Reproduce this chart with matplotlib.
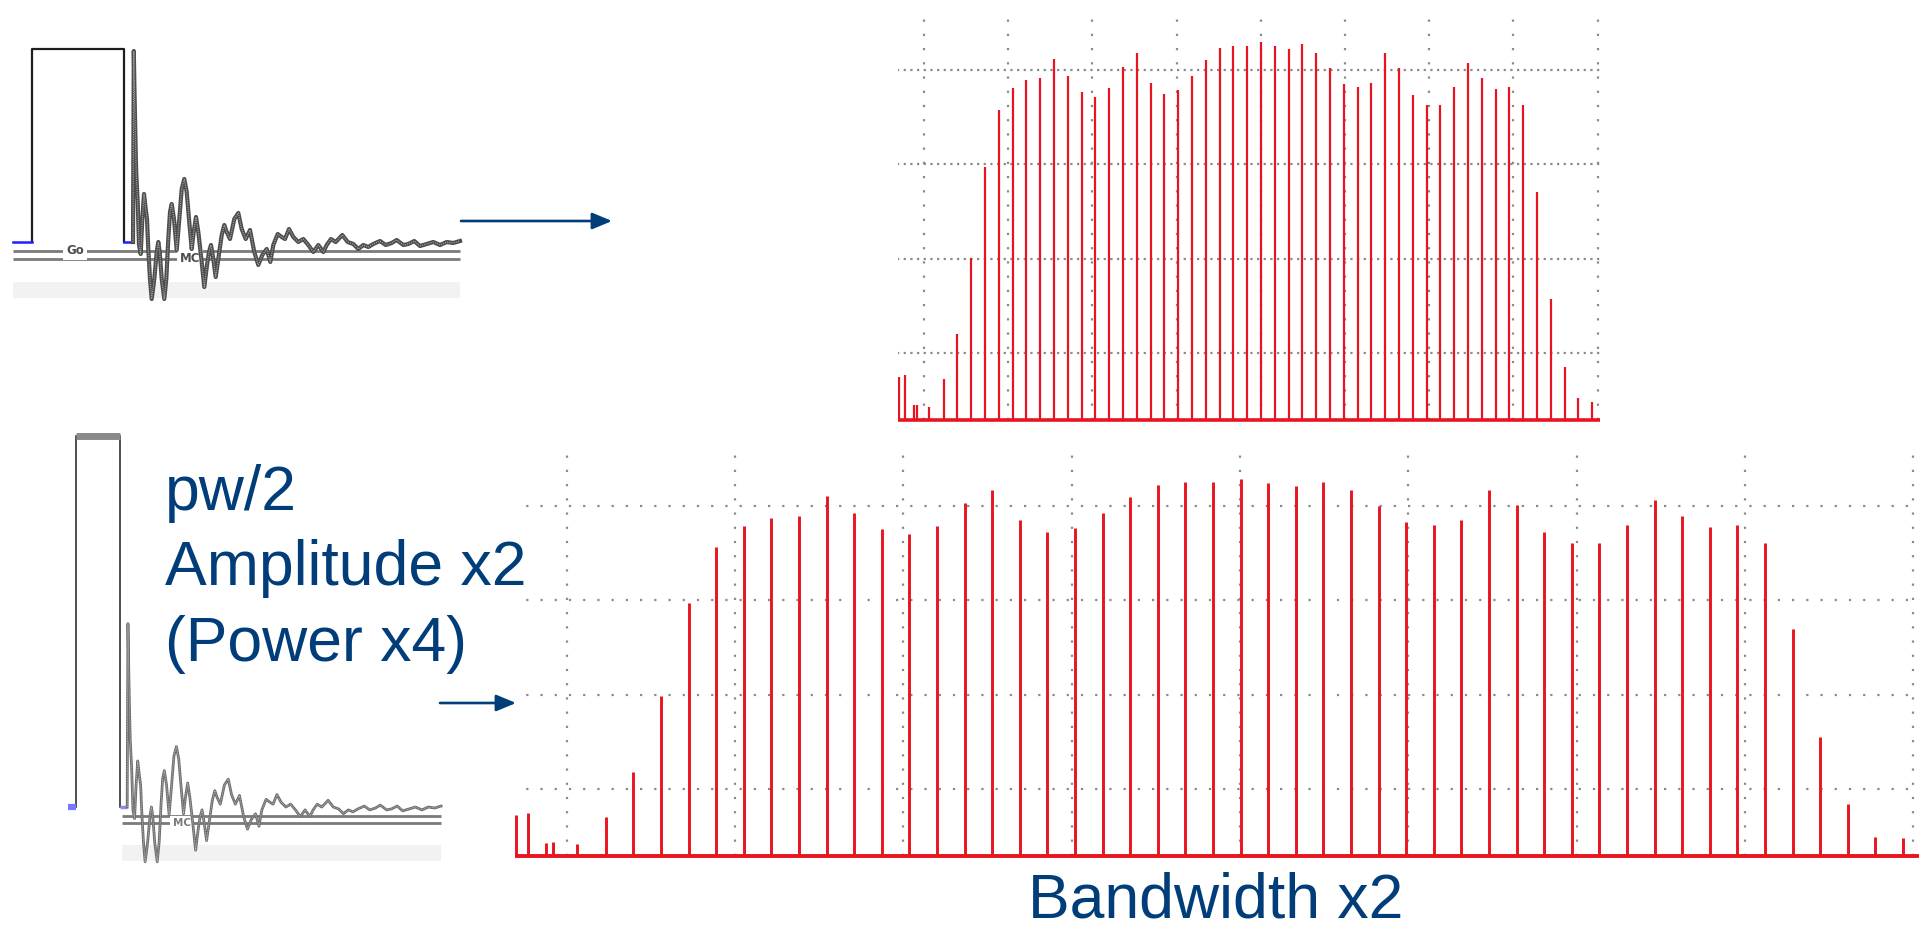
import numpy as np
import matplotlib
matplotlib.use("Agg")
import matplotlib.pyplot as plt

# ---------------- data ----------------
# comb spectrum: relative harmonic index of each excited line
peak_index = np.arange(48)
top_heights = [41, 86, 162, 253, 310, 332, 340, 342, 361, 344,
               328, 323, 332, 353, 367, 337, 326, 330, 344, 360,
               372, 374, 374, 378, 374, 371, 376, 367, 352, 336,
               333, 337, 367, 352, 325, 315, 315, 333, 357, 342,
               331, 333, 315, 228, 121, 53, 22, 18]
bottom_heights = [39, 84, 160, 253, 309, 330, 338, 340, 360, 343,
                  327, 322, 330, 353, 366, 336, 324, 328, 343, 359,
                  371, 374, 374, 377, 373, 370, 374, 366, 350, 334,
                  331, 336, 366, 351, 324, 313, 313, 331, 356, 340,
                  329, 331, 313, 227, 119, 52, 19, 18]
small_index = [-3.25, -2.83, -2.17, -1.90, -1.06]
small_top = [43, 45, 15, 15, 13]
small_bottom = [41, 43, 13, 14, 12]
grid_index = [-1.42, 4.68, 10.78, 16.88, 22.98, 29.08, 35.18, 41.28, 47.38]
grid_level = [67, 161.5, 256, 350.5]
grid_top = 410

# pulse parameters (time units, amplitude units)
pulse_width = 92
pulse_amp = 193
# FID trace (time after FID start, amplitude)
fid_t = [0, 0.8, 1.5, 2.7, 3.2, 4.7, 6, 7.7, 9.3, 11, 12.7, 14, 15.3, 17, 18.7,
         21.3, 23.7, 25.3, 26.7, 28.7, 31.3, 33.3, 35.3, 37, 38.7, 41, 43.7,
         46.3, 48.7, 51.3, 53.7, 56, 58.7, 60.7, 63, 65.3, 68.7, 71.3, 74, 76,
         78, 80.3, 82.7, 85.3, 88.7, 91.3, 93.7, 97, 101.3, 105.3, 108.7,
         112.7, 117, 121.3, 125.3, 129.3, 133.7, 137.3, 140.3, 144.7, 148.7,
         152, 156, 160.3, 165.3, 170.3, 175.3, 180.3, 185.3, 190.3, 193.7,
         198, 202.7, 209.3, 214.7, 220.3, 225.3, 230.3, 235.3, 240.3, 247,
         252.7, 258.7, 263.7, 270.3, 275.3, 281.3, 287, 293.7, 300.3, 307,
         313.7, 320.3, 327]
fid_a = [0, 191, 150, 90, 70, 40, -3, -12, 23, 48, 33, 23, -7, -37, -57,
         -37, -10, 0, -10, -37, -57, -37, 3, 30, 38, 23, -8,
         23, 53, 63, 50, 23, -7, 10, 25, 10, -20, -45, -23, -10,
         -3, -17, -35, -17, 7, 17, 10, 3, 23, 29, 13,
         3, 12, -10, -23, -13, -7, -20, -3, 8, 5,
         3, 13, 5, 0, 3, -3, -10, -3, -10, -3,
         3, 0, 7, 0, -2, -7, -3, -5, -2, 1,
         -3, -1, 2, -3, -2, 1, -4, -2, 0, -3,
         0, -1, 1]

labels = ["pw/2", "Amplitude x2", "(Power x4)"]
bottom_label = "Bandwidth x2"

# ---------------- style ----------------
W, H = 1919, 931
NAVY = "#003d79"
RED = "#e8141f"
DOT = "#8a8a8a"

fig = plt.figure(figsize=(W / 100, H / 100), dpi=100)
fig.patch.set_facecolor("white")


def px_axes(x0, y0, x1, y1):
    ax = fig.add_axes([x0 / W, 1 - y1 / H, (x1 - x0) / W, (y1 - y0) / H])
    ax.set_axis_off()
    ax.patch.set_alpha(0)
    return ax


def spectrum(ax, heights, sm_h, lw_peak, hdots, lw_base):
    # grid
    for g in grid_index:
        ax.plot([g, g], [0, grid_top], color=DOT, lw=1.6,
                ls=(0, (1, 5.4)), zorder=1)
    for lev in grid_level:
        ax.plot([-3.4, 47.7], [lev, lev], color=DOT, lw=1.6,
                ls=(0, (1, hdots)), zorder=1)
    ax.vlines(peak_index, 0, heights, color=RED, lw=lw_peak, zorder=3)
    ax.vlines(small_index, 0, sm_h, color=RED, lw=lw_peak, zorder=3)
    ax.plot([-3.4, 47.7], [0, 0], color=RED, lw=lw_base, zorder=3,
            solid_capstyle="butt")


ax_s1 = px_axes(898, 0, 1600, 440)
ax_s1.set_xlim(-3.31, 47.56)
ax_s1.set_ylim(-20, 420)
spectrum(ax_s1, top_heights, small_top, 1.6, 2.0, 2.6)

ax_s2 = px_axes(515, 430, 1919, 880)
ax_s2.set_xlim(-3.29, 47.58)
ax_s2.set_ylim(-24, 426)
spectrum(ax_s2, bottom_heights, small_bottom, 2.1, 5.4, 2.8)


def pulse_panel(ax, pw, amp, fid_start, line_start, blue_start, top_panel):
    line_end = fid_start + fid_t[-1]
    ax.fill_between([line_start, line_end], -56, -40, color="#f2f2f2",
                    lw=0, zorder=0)
    ax.hlines([-9, -17], line_start, line_end, color="#7a7a7a",
              lw=2.0, zorder=1)
    # pulse
    if top_panel:
        ax.plot([0, 0, pw, pw], [0, amp, amp, 0], color="#1e1e1e", lw=1.6,
                solid_joinstyle="round", zorder=3)
        ax.plot([blue_start, 0], [0, 0], color="#1f1fff", lw=1.8, zorder=3)
        ax.plot([pw, fid_start - 1], [0, 0], color="#1f1fff", lw=1.8,
                zorder=3)
    else:
        ax.plot([0, 0], [0, amp], color="#1e1e1e", lw=1.1, zorder=3)
        ax.plot([pw, pw], [0, amp], color="#1e1e1e", lw=1.1, zorder=3)
        ax.plot([0, pw], [amp, amp], color="#8a8a8a", lw=5, zorder=3,
                solid_capstyle="butt")
        ax.plot([blue_start, 0], [0, 0], color="#7878ff", lw=4.5, zorder=3,
                solid_capstyle="butt")
        ax.plot([pw, fid_start], [0, 0], color="#8c8cff", lw=2.5, zorder=3,
                solid_capstyle="butt")
    ft = np.asarray(fid_t) + fid_start
    if top_panel:
        ax.plot(ft, fid_a, color="#4d4d4d", lw=3.0, zorder=4,
                solid_joinstyle="round")
        ax.plot(ft, fid_a, color="#a8a8a8", lw=0.8, zorder=5,
                ls=(0, (1, 1)))
    else:
        ax.plot(ft, fid_a, color="#6e6e6e", lw=2.0, zorder=4,
                solid_joinstyle="round")
        ax.plot(ft, fid_a, color="#c4c4c4", lw=0.6, zorder=5,
                ls=(0, (1, 1)))
    bb = dict(boxstyle="square,pad=0.25", fc="white", ec="none")
    if top_panel:
        ax.text(43.5, -9, "Go", fontsize=8.5, fontweight="bold",
                color="#4d4d4d", ha="center", va="center", bbox=bb, zorder=2)
        ax.text(fid_start + 57, -17, "MC", fontsize=8.5, fontweight="bold",
                color="#4d4d4d", ha="center", va="center", bbox=bb, zorder=2)
    else:
        ax.text(fid_start + 57, -17, "MC", fontsize=7.5, fontweight="bold",
                color="#7a7a7a", ha="center", va="center", bbox=bb, zorder=2)


ax_p1 = px_axes(0, 30, 480, 310)
ax_p1.set_xlim(-31.5, 448.5)
ax_p1.set_ylim(-68, 212)
pulse_panel(ax_p1, pulse_width, pulse_amp, pulse_width + 9.5, -18.5, -18.5,
            True)

ax_p2 = px_axes(40, 420, 460, 880)
ax_p2.set_xlim(-37.5, 400)
ax_p2.set_ylim(-76, 403.1)
pulse_panel(ax_p2, pulse_width / 2, pulse_amp * 2, pulse_width / 2 + 7.3,
            48, -8.3, False)

# overlay for text and arrows
ax_o = fig.add_axes([0, 0, 1, 1])
ax_o.set_axis_off()
ax_o.patch.set_alpha(0)
ax_o.set_xlim(0, W)
ax_o.set_ylim(H, 0)

for lab, yb in zip(labels, [510, 585, 661]):
    ax_o.text(165, yb, lab, fontsize=45, color=NAVY, va="baseline",
              ha="left", family="Liberation Sans")
ax_o.text(1216, 917, bottom_label, fontsize=45, color=NAVY, va="baseline",
          ha="center", family="Liberation Sans")

astyle = "-|>,head_length=1.2,head_width=0.5"
ax_o.annotate("", xy=(612, 221), xytext=(461, 221),
              arrowprops=dict(arrowstyle=astyle, color=NAVY, lw=1.9,
                              shrinkA=0, shrinkB=0, mutation_scale=10))
ax_o.annotate("", xy=(516, 703), xytext=(440, 703),
              arrowprops=dict(arrowstyle=astyle, color=NAVY, lw=1.9,
                              shrinkA=0, shrinkB=0, mutation_scale=10))

fig.savefig("out.png", dpi=100, facecolor="white")
